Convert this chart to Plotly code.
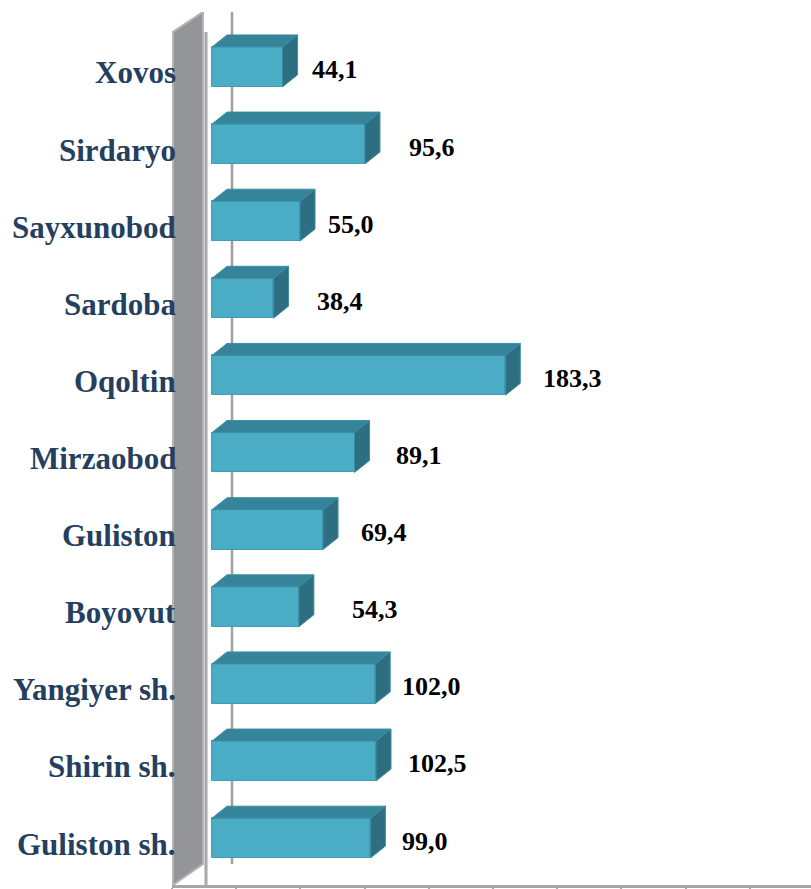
import plotly.graph_objects as go

# ---- data ----
categories = ["Xovos", "Sirdaryo", "Sayxunobod", "Sardoba", "Oqoltin", "Mirzaobod",
              "Guliston", "Boyovut", "Yangiyer sh.", "Shirin sh.", "Guliston sh."]
values = [44.1, 95.6, 55.0, 38.4, 183.3, 89.1, 69.4, 54.3, 102.0, 102.5, 99.0]
value_labels = ["44,1", "95,6", "55,0", "38,4", "183,3", "89,1", "69,4", "54,3",
                "102,0", "102,5", "99,0"]

# ---- style / geometry (pixels -> axis units) ----
W, H = 811, 889
ML, MR, MT, MB = 172, 0, 12, 2
PX_PER_X = 1.6
X_MIN = -25.0
X_MAX = X_MIN + (W - ML - MR) / PX_PER_X
PX_PER_Y = 77.3
Y_TOP = -(67 - MT) / PX_PER_Y
Y_BOT = Y_TOP + (H - MT - MB) / PX_PER_Y


def xd(px):
    return X_MIN + (px - ML) / PX_PER_X


def yd(py):
    return Y_TOP + (py - MT) / PX_PER_Y


BAR_H = 40 / PX_PER_Y
DX = 15 / PX_PER_X
DY = -12 / PX_PER_Y
FRONT = "#4BACC6"
TOP = "#35849A"
SIDE = "#2D6E80"
label_dx = [29, 44, 28, 44, 38, 41, 38, 53, 27, 32, 32]

idx = list(range(len(categories)))

fig = go.Figure()
fig.add_trace(go.Bar(
    x=values, y=idx, orientation="h", width=BAR_H, base=0,
    marker=dict(color=FRONT, line=dict(color="#3E9CB6", width=1)),
    hoverinfo="skip", showlegend=False,
))

tx, ty, sx, sy = [], [], [], []
for i, v in zip(idx, values):
    t = i - BAR_H / 2
    b = i + BAR_H / 2
    tx += [0, v, v + DX, DX, 0, None]
    ty += [t, t, t + DY, t + DY, t, None]
    sx += [v, v + DX, v + DX, v, v, None]
    sy += [t, t + DY, b + DY, b, t, None]

fig.add_trace(go.Scatter(x=tx, y=ty, mode="lines", fill="toself", fillcolor=TOP,
                         line=dict(color="#3B8EA4", width=1), hoverinfo="skip",
                         showlegend=False))
fig.add_trace(go.Scatter(x=sx, y=sy, mode="lines", fill="toself", fillcolor=SIDE,
                         line=dict(color="#3B8EA4", width=1), hoverinfo="skip",
                         showlegend=False))

shapes = []
# left wall
shapes.append(dict(
    type="path", xref="x", yref="y", layer="below",
    path=(f"M {xd(173)},{yd(32)} L {xd(203)},{yd(12)} L {xd(203)},{yd(866)} "
          f"L {xd(173)},{yd(887)} Z"),
    fillcolor="#939598", line=dict(color="#B4B4B4", width=2),
))
shapes.append(dict(type="line", xref="x", yref="y", layer="below",
                   x0=xd(206), x1=xd(206), y0=yd(32), y1=yd(887),
                   line=dict(color="#A8A8A8", width=3)))
# back zero line
shapes.append(dict(type="line", xref="x", yref="y", layer="below",
                   x0=xd(232), x1=xd(232), y0=yd(12), y1=yd(866),
                   line=dict(color="#A0A0A0", width=2.5)))

annotations = []
for i, c in zip(idx, categories):
    annotations.append(dict(
        x=xd(178), y=i, xref="x", yref="y", text=c, showarrow=False,
        xanchor="right", yanchor="middle", yshift=-6,
        font=dict(family="Liberation Serif", size=31, color="#243F60", weight="bold"),
    ))
for i, v, lab, dx in zip(idx, values, value_labels, label_dx):
    annotations.append(dict(
        x=v, y=i, xref="x", yref="y", text=lab, showarrow=False,
        xanchor="left", yanchor="middle", xshift=dx - 2, yshift=-3,
        font=dict(family="Liberation Serif", size=26, color="#000000", weight="bold"),
    ))

tick_px = [172 + 64.2 * k for k in range(10)]

fig.update_layout(
    width=W, height=H,
    margin=dict(l=ML, r=MR, t=MT, b=MB, pad=0),
    plot_bgcolor="white", paper_bgcolor="white",
    bargap=0,
    shapes=shapes, annotations=annotations,
    xaxis=dict(range=[X_MIN, X_MAX], showgrid=False, zeroline=False,
               showline=True, linecolor="#A6A6A6", linewidth=3,
               ticks="outside", ticklen=4, tickwidth=2, tickcolor="#A6A6A6",
               tickvals=[xd(p) for p in tick_px], showticklabels=False,
               fixedrange=True),
    yaxis=dict(range=[Y_BOT, Y_TOP], showgrid=False, zeroline=False,
               showline=False, showticklabels=False, ticks="", fixedrange=True),
)

fig.write_html("out.html", config={"displayModeBar": False},
               post_script="document.body.style.margin='0';document.body.style.overflow='hidden';")
